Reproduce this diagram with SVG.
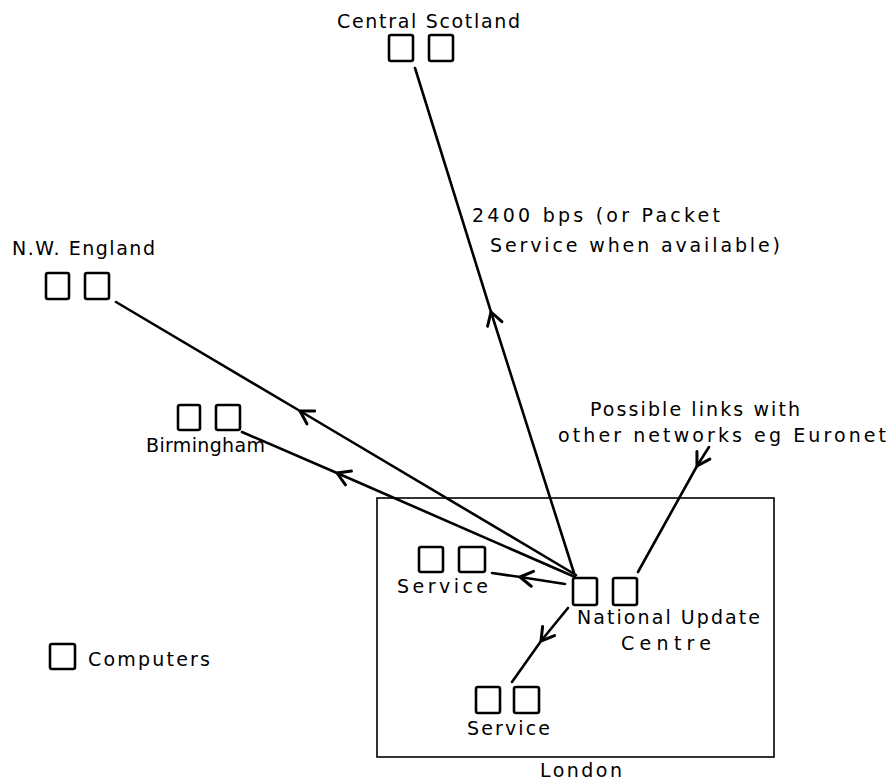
<svg xmlns="http://www.w3.org/2000/svg" width="887" height="782" viewBox="0 0 887 782">
<style>
text{font-family:"DejaVu Sans","Liberation Sans",sans-serif;font-size:19px;fill:#000}
.c{fill:#fff;stroke:#000;stroke-width:2.6}
.l{fill:none;stroke:#000;stroke-width:2.6;stroke-linecap:round}
.frame{fill:none;stroke:#000;stroke-width:1.6}
</style>
<defs>
<marker id="a" markerUnits="userSpaceOnUse" markerWidth="20" markerHeight="20" viewBox="-12 -8 16 16" refX="0" refY="0" orient="auto">
<path d="M-10,-6 L0,0 L-10,6" fill="none" stroke="#000" stroke-width="2.4" stroke-linecap="round" stroke-linejoin="round"/>
</marker>
</defs>
<rect width="887" height="782" fill="#fff"/>
<g id="london">
<rect class="frame" x="377" y="498" width="397" height="259"/>
<text x="540" y="777" textLength="82" lengthAdjust="spacing">London</text>
</g>
<g id="connectors">
<path class="l" d="M574,573 L491,312 L415,68" marker-mid="url(#a)"/>
<path class="l" d="M576,575 L300,411 L116,302" marker-mid="url(#a)"/>
<path class="l" d="M575,577 L337,473 L242,432" marker-mid="url(#a)"/>
<path class="l" d="M565,584 L520,577 L492,573" marker-mid="url(#a)"/>
<path class="l" d="M568,608 L541,641 L512,682" marker-mid="url(#a)"/>
<path class="l" d="M709,447 L697,466 L638,572" marker-mid="url(#a)"/>
</g>
<g id="central-scotland">
<text x="337" y="28" textLength="183" lengthAdjust="spacing">Central Scotland</text>
<rect class="c" x="389" y="35" width="24" height="26" rx="2"/>
<rect class="c" x="429" y="35" width="24" height="26" rx="2"/>
</g>
<g id="nw-england">
<text x="12" y="255" textLength="143" lengthAdjust="spacing">N.W. England</text>
<rect class="c" x="46" y="273" width="23" height="26" rx="2"/>
<rect class="c" x="85" y="273" width="24" height="26" rx="2"/>
</g>
<g id="birmingham">
<rect class="c" x="178" y="405" width="22" height="25" rx="2"/>
<rect class="c" x="216" y="405" width="24" height="25" rx="2"/>
<text x="146" y="452" textLength="119" lengthAdjust="spacing">Birmingham</text>
</g>
<g id="link-label">
<text x="472" y="222" textLength="248" lengthAdjust="spacing">2400 bps (or Packet</text>
<text x="490" y="252" textLength="290" lengthAdjust="spacing">Service when available)</text>
</g>
<g id="euronet-label">
<text x="590" y="416" textLength="210" lengthAdjust="spacing">Possible links with</text>
<text x="558" y="442" textLength="328" lengthAdjust="spacing">other networks eg Euronet</text>
</g>
<g id="service-1">
<rect class="c" x="419" y="547" width="24" height="25" rx="2"/>
<rect class="c" x="459" y="547" width="26" height="25" rx="2"/>
<text x="397" y="593" textLength="91" lengthAdjust="spacing">Service</text>
</g>
<g id="national-update-centre">
<rect class="c" x="573" y="578" width="24" height="27" rx="2"/>
<rect class="c" x="613" y="578" width="24" height="27" rx="2"/>
<text x="577" y="624" textLength="183" lengthAdjust="spacing">National Update</text>
<text x="621" y="650" textLength="90" lengthAdjust="spacing">Centre</text>
</g>
<g id="service-2">
<rect class="c" x="476" y="687" width="24" height="26" rx="2"/>
<rect class="c" x="514" y="687" width="25" height="26" rx="2"/>
<text x="467" y="735" textLength="83" lengthAdjust="spacing">Service</text>
</g>
<g id="legend">
<rect class="c" x="50" y="644" width="25" height="25" rx="2"/>
<text x="88" y="666" textLength="122" lengthAdjust="spacing">Computers</text>
</g>
</svg>
